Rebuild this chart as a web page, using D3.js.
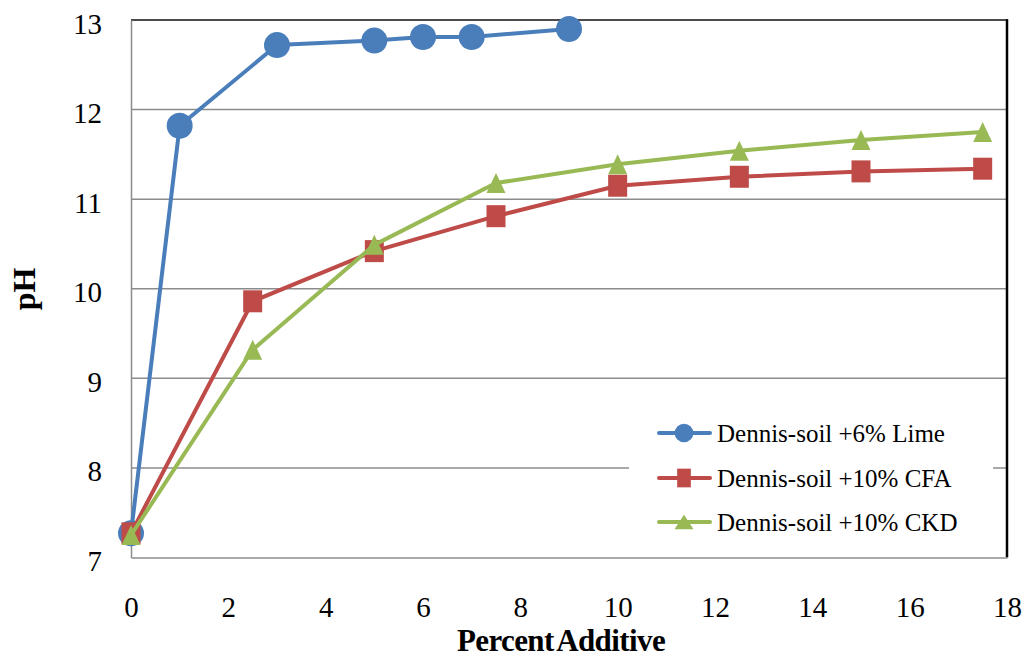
<!DOCTYPE html>
<html><head><meta charset="utf-8">
<script src="https://cdn.jsdelivr.net/npm/d3@7"></script>
<style>body{margin:0;background:#fff}svg{display:block}svg text{font-family:"Times New Roman","Liberation Serif",serif !important}</style>
</head><body><svg id="c" width="1029" height="659"></svg>
<script>
const limeX = [0, 1, 3, 5, 6, 7, 9];
const limePH = [7.27, 11.82, 12.72, 12.77, 12.81, 12.81, 12.9];
const cfaX = [0, 2.5, 5, 7.5, 10, 12.5, 15, 17.5];
const cfaPH = [7.27, 9.86, 10.42, 10.81, 11.15, 11.25, 11.31, 11.34];
const ckdX = [0, 2.5, 5, 7.5, 10, 12.5, 15, 17.5];
const ckdPH = [7.25, 9.32, 10.49, 11.18, 11.39, 11.54, 11.66, 11.75];
const xTicks = [0, 2, 4, 6, 8, 10, 12, 14, 16, 18];
const yTicks = [7, 8, 9, 10, 11, 12, 13];
const seriesNames = ["Dennis-soil +6% Lime", "Dennis-soil +10% CFA", "Dennis-soil +10% CKD"];
const colors = ["#4A7EBB", "#BE4B48", "#98B954"];
const shapes = ["circle", "square", "triangle"];

const svg = d3.select("#c");
const L = 131, R = 1007, T = 20, B = 557.5;
const x = d3.scaleLinear().domain([0, 18]).range([L, R]);
const y = d3.scaleLinear().domain([7, 13]).range([B, T]);

svg.append("g").selectAll("line").data(yTicks.filter(v => v > 7 && v < 13)).join("line")
  .attr("x1", L).attr("x2", R).attr("y1", d => y(d)).attr("y2", d => y(d))
  .attr("stroke", "#8c8c8c").attr("stroke-width", 1.5);

svg.append("line").attr("x1", L).attr("x2", R + 1).attr("y1", T).attr("y2", T).attr("stroke", "#111").attr("stroke-width", 1.5);
svg.append("line").attr("x1", R).attr("x2", R).attr("y1", T - 0.75).attr("y2", B).attr("stroke", "#000").attr("stroke-width", 2.5);

const xAxis = svg.append("g").attr("transform", `translate(0,${B})`)
  .call(d3.axisBottom(x).tickValues(xTicks).tickSize(0).tickFormat(d3.format("d")));
xAxis.attr("font-family", null);
xAxis.select(".domain").attr("stroke", "#8c8c8c").attr("stroke-width", 1.5);
xAxis.selectAll("text").style("font-size", "29px").attr("fill", "#000").attr("y", 59).attr("dy", 0);

const yAxis = svg.append("g").attr("transform", `translate(${L},0)`)
  .call(d3.axisLeft(y).tickValues(yTicks).tickSize(0).tickFormat(d3.format("d")));
yAxis.attr("font-family", null);
yAxis.select(".domain").attr("stroke", "#8c8c8c").attr("stroke-width", 1.5);
yAxis.selectAll("text").style("font-size", "29px").attr("fill", "#000").attr("x", -29).attr("dy", "0.45em");

svg.append("text").attr("x", 561).attr("y", 651).attr("text-anchor", "middle")
  .style("font-size", "31px").attr("font-weight", "bold").attr("letter-spacing", -0.6).attr("word-spacing", -3).text("Percent Additive");
svg.append("text").attr("transform", "translate(35,289) rotate(-90)").attr("text-anchor", "middle")
  .style("font-size", "32px").attr("font-weight", "bold").text("pH");

svg.append("rect").attr("x", 629).attr("y", 404).attr("width", 364).attr("height", B - 404 - 1).attr("fill", "#fff");

function marker(g, shape, color, cx, cy, k) {
  if (shape === "circle") g.append("circle").attr("cx", cx).attr("cy", cy).attr("r", 13 * k).attr("fill", color);
  else if (shape === "square") g.append("rect").attr("x", cx - 9.5 * k).attr("y", cy - 11 * (k < 1 ? 0.85 : 1)).attr("width", 19 * k).attr("height", 22 * (k < 1 ? 0.85 : 1)).attr("fill", color);
  else g.append("path").attr("d", `M${cx},${cy - 10 * k}L${cx + 9.5},${cy + 10 * k}L${cx - 9.5},${cy + 10 * k}Z`).attr("fill", color);
}

const data = [[limeX, limePH], [cfaX, cfaPH], [ckdX, ckdPH]];
const line = d3.line().x(d => x(d[0])).y(d => y(d[1]));
data.forEach(([xs, ys], i) => {
  const pts = xs.map((v, k) => [v, ys[k]]);
  const g = svg.append("g");
  g.append("path").attr("d", line(pts)).attr("fill", "none").attr("stroke", colors[i]).attr("stroke-width", 4).attr("stroke-linejoin", "round");
  pts.forEach(p => marker(g, shapes[i], colors[i], x(p[0]), y(p[1]), 1));
});

const ly = [433, 478, 522];
seriesNames.forEach((name, i) => {
  const g = svg.append("g");
  g.append("line").attr("x1", 659).attr("x2", 710).attr("y1", ly[i]).attr("y2", ly[i]).attr("stroke", colors[i]).attr("stroke-width", 4).attr("stroke-linecap", "round");
  marker(g, shapes[i], colors[i], 684, ly[i], 0.72);
  g.append("text").attr("x", 717).attr("y", ly[i] + 8.5).style("font-size", "25px").text(name);
});
</script></body></html>
